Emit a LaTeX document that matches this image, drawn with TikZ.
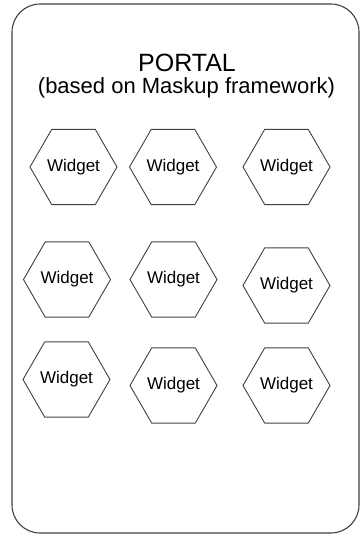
\documentclass[tikz,border=0pt]{standalone}
\usepackage{fontspec}
\setmainfont{Liberation Sans}
\usetikzlibrary{shapes}

\begin{document}
\begin{tikzpicture}
[x=1pt,y=-1pt]
\tikzset{
	portal/.style = {draw = black!75, line width = 1.1pt, rounded corners = 28pt, minimum width = 347pt, minimum height = 529pt, inner sep = 0},
	widget/.style = {regular polygon, regular polygon sides = 6, draw = black!75, line width = 0.9pt, minimum size = 87pt, inner sep = 0, font = \fontsize{17}{19}\selectfont}
}
\useasboundingbox (0,0) rectangle (362,536);

\node(portal) [portal] at (185.5,268.5) {};
\node(title) at (187,63) {\fontsize{25}{28}\selectfont PORTAL};
\node(subtitle) at (186.5,88) {\fontsize{22}{24}\selectfont (based on Maskup framework)};

\node(w11) [widget] at (73.5,167) {Widget};
\node(w12) [widget] at (173,167) {Widget};
\node(w13) [widget] at (286.5,167) {Widget};

\node(w21) [widget] at (67,279.5) {Widget};
\node(w22) [widget] at (173.5,279.5) {Widget};
\node(w23) [widget] at (286.5,285.5) {Widget};

\node(w31) [widget] at (66.5,379.5) {Widget};
\node(w32) [widget] at (173.5,385.5) {Widget};
\node(w33) [widget] at (286.5,385.5) {Widget};
\end{tikzpicture}
\end{document}
